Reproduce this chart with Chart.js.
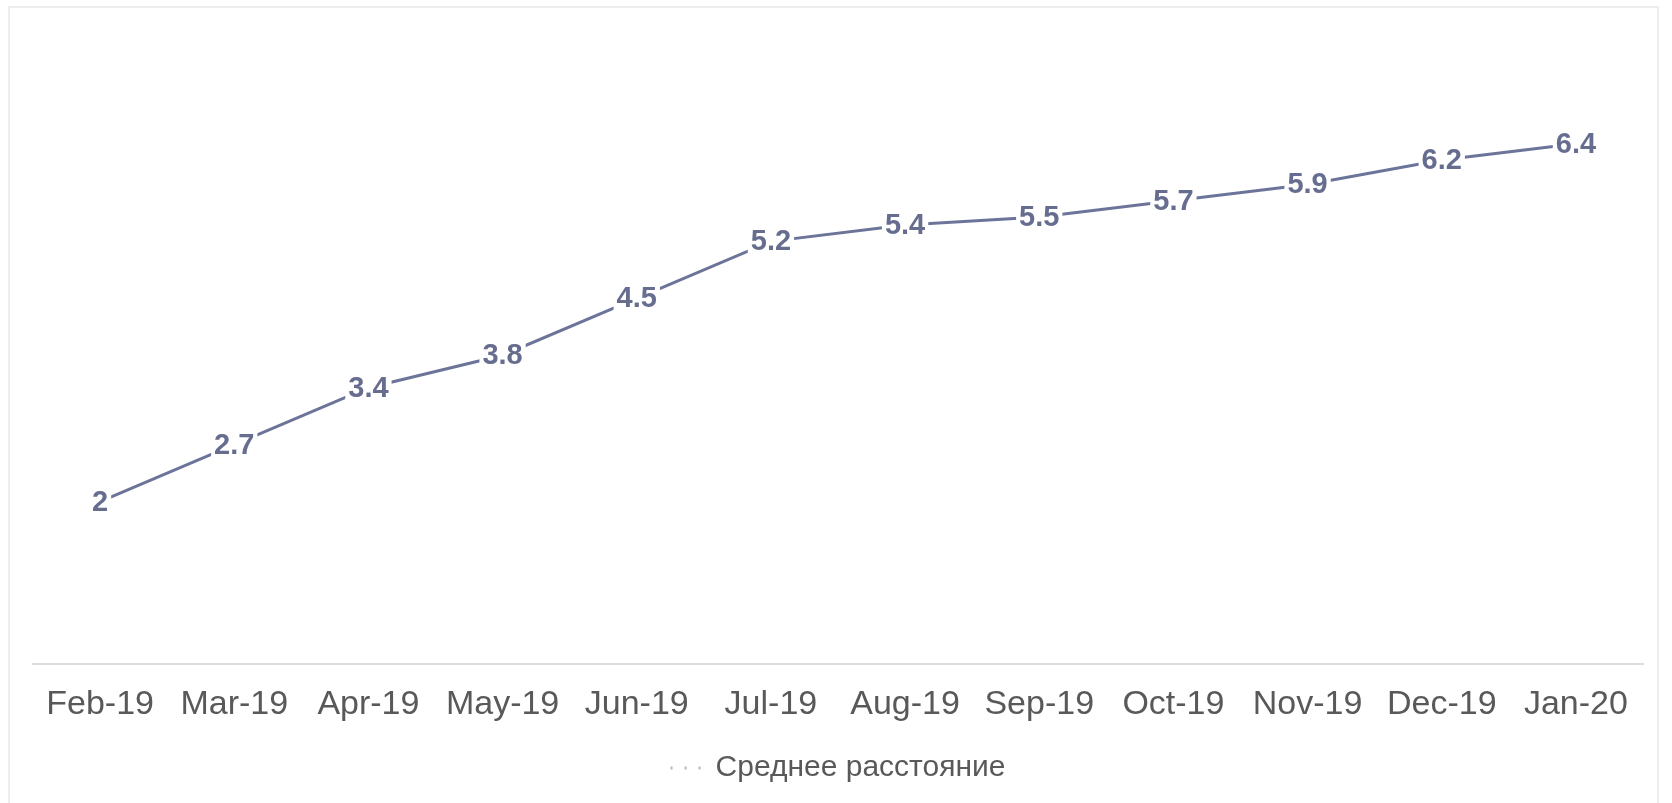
<!DOCTYPE html>
<html>
<head>
<meta charset="utf-8">
<script src="https://cdn.jsdelivr.net/npm/chart.js@4/dist/chart.umd.min.js"></script>
<style>
  html, body { margin: 0; padding: 0; background: #ffffff; }
  .frame {
    position: absolute; left: 8px; top: 6px; width: 1651px; height: 820px;
    border: 2px solid #ededed; box-sizing: border-box;
  }
  #chart { position: absolute; left: 0; top: 0; }
</style>
</head>
<body>
<div class="frame"></div>
<canvas id="chart" width="1672" height="803"></canvas>
<script>
// months on the x axis
const months = ['Feb-19', 'Mar-19', 'Apr-19', 'May-19', 'Jun-19', 'Jul-19',
  'Aug-19', 'Sep-19', 'Oct-19', 'Nov-19', 'Dec-19', 'Jan-20'];

// average distance per month
const avgDistance = [2, 2.7, 3.4, 3.8, 4.5, 5.2, 5.4, 5.5, 5.7, 5.9, 6.2, 6.4];

const seriesName = 'Среднее расстояние';

const lineColor = '#6d7499';
const labelColor = '#676d8f';

// value labels centred on each point, with a white patch behind them
const pointLabels = {
  id: 'pointLabels',
  afterDatasetsDraw(chart) {
    const ctx = chart.ctx;
    const meta = chart.getDatasetMeta(0);
    ctx.save();
    ctx.font = 'bold 29px "Liberation Sans", Arial, sans-serif';
    ctx.textAlign = 'center';
    ctx.textBaseline = 'middle';
    meta.data.forEach((pt, i) => {
      const txt = String(avgDistance[i]);
      const w = ctx.measureText(txt).width;
      ctx.fillStyle = '#ffffff';
      ctx.fillRect(pt.x - w / 2 - 3, pt.y - 13, w + 6, 26);
      ctx.fillStyle = labelColor;
      ctx.fillText(txt, pt.x, pt.y + 1);
    });
    ctx.restore();
  }
};

new Chart(document.getElementById('chart'), {
  type: 'line',
  data: {
    labels: months,
    datasets: [{
      label: seriesName,
      data: avgDistance,
      borderColor: lineColor,
      backgroundColor: lineColor,
      borderWidth: 3,
      pointRadius: 0,
      tension: 0,
      fill: false
    }]
  },
  options: {
    responsive: false,
    animation: false,
    layout: { padding: { left: 33, right: 29, top: 95, bottom: 10 } },
    scales: {
      x: {
        offset: true,
        grid: { display: false, drawTicks: false },
        border: { display: true, color: '#dcdcdc', width: 2 },
        ticks: {
          color: '#595959',
          padding: 20,
          maxRotation: 0,
          autoSkip: false,
          font: { family: '"Liberation Sans", Arial, sans-serif', size: 34 }
        }
      },
      y: {
        display: false,
        min: 0,
        max: 7
      }
    },
    plugins: {
      legend: {
        position: 'bottom',
        labels: {
          usePointStyle: true,
          pointStyle: 'line',
          pointStyleWidth: 30,
          padding: 8,
          color: '#595959',
          font: { family: '"Liberation Sans", Arial, sans-serif', size: 30 },
          generateLabels(chart) {
            return [{
              text: seriesName,
              fontColor: '#595959',
              fillStyle: 'transparent',
              strokeStyle: '#b5b5b5',
              lineWidth: 3,
              lineDash: [2, 12],
              pointStyle: 'line',
              datasetIndex: 0
            }];
          }
        }
      },
      tooltip: { enabled: false }
    }
  },
  plugins: [pointLabels]
});
</script>
</body>
</html>
